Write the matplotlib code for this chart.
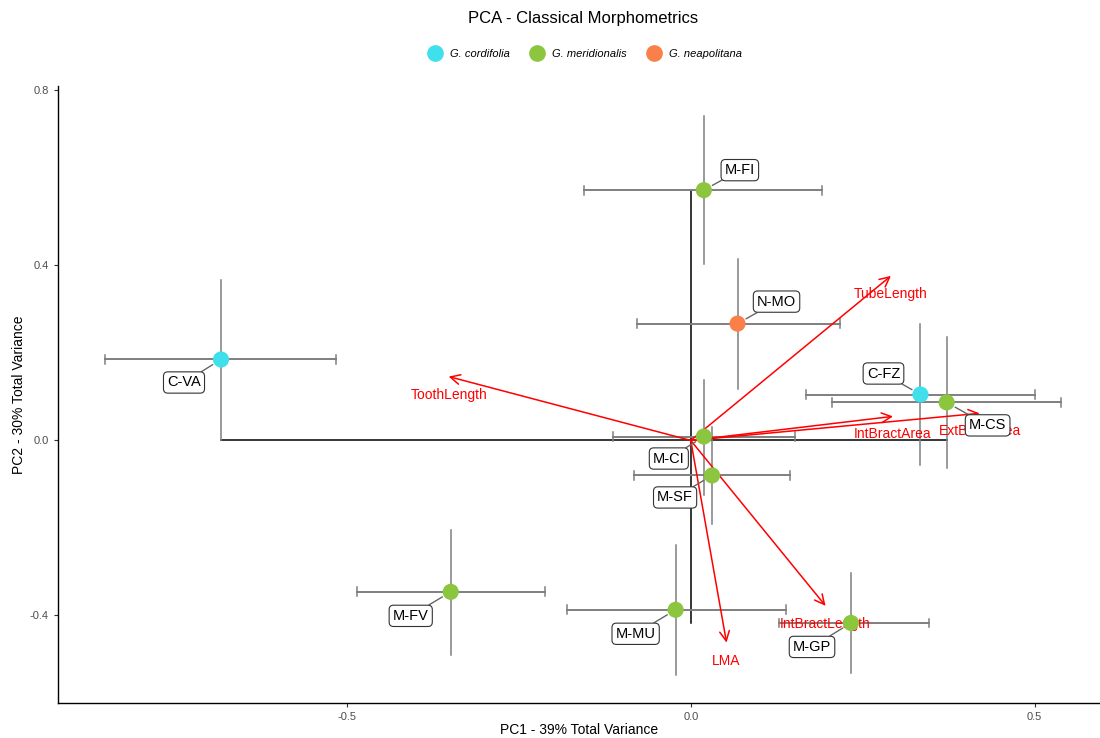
import matplotlib.pyplot as plt
from matplotlib.lines import Line2D

plt.rcParams['font.family'] = ['Liberation Sans', 'DejaVu Sans']

sites = ['C-VA', 'C-FZ', 'M-FI', 'M-CS', 'M-CI', 'M-SF', 'M-FV', 'M-MU', 'M-GP', 'N-MO']
species = ['G. cordifolia', 'G. cordifolia', 'G. meridionalis', 'G. meridionalis',
           'G. meridionalis', 'G. meridionalis', 'G. meridionalis', 'G. meridionalis',
           'G. meridionalis', 'G. neapolitana']
pc1 = [-0.683, 0.334, 0.019, 0.372, 0.019, 0.031, -0.349, -0.022, 0.233, 0.068]
pc2 = [0.185, 0.105, 0.572, 0.087, 0.009, -0.080, -0.346, -0.387, -0.417, 0.267]
pc1_lo = [-0.852, 0.167, -0.155, 0.206, -0.113, -0.083, -0.485, -0.180, 0.129, -0.078]
pc1_hi = [-0.516, 0.500, 0.191, 0.539, 0.151, 0.145, -0.212, 0.138, 0.347, 0.217]
pc2_lo = [0.000, -0.055, 0.403, -0.062, -0.125, -0.190, -0.490, -0.536, -0.531, 0.118]
pc2_hi = [0.367, 0.267, 0.741, 0.237, 0.137, 0.030, -0.205, -0.239, -0.303, 0.415]

variables = ['TubeLength', 'ToothLength', 'IntBractArea', 'ExtBractArea', 'LMA', 'IntBractLength']
load1 = [0.291, -0.352, 0.294, 0.420, 0.052, 0.196]
load2 = [0.376, 0.146, 0.055, 0.062, -0.462, -0.378]

species_order = ['G. cordifolia', 'G. meridionalis', 'G. neapolitana']
colors = {'G. cordifolia': '#3FE0EC', 'G. meridionalis': '#8CC63F', 'G. neapolitana': '#F98049'}

# label offsets in pixels (dx, dy), like ggrepel placed them
label_offsets = {'C-VA': (-37, -23), 'C-FZ': (-37, 21), 'M-FI': (36, 20), 'M-CS': (41, -23),
                 'M-CI': (-35, -22), 'M-SF': (-37, -22), 'M-FV': (-40, -24), 'M-MU': (-40, -24),
                 'M-GP': (-39, -24), 'N-MO': (39, 22)}

fig = plt.figure(figsize=(11, 7.38), dpi=100)
ax = fig.add_axes([58 / 1100, 35 / 738, 1042 / 1100, 617 / 738])

# cross through the origin spanning the scores
ax.plot([min(pc1), max(pc1)], [0, 0], color='black', lw=1.1, zorder=1)
ax.plot([0, 0], [min(pc2), max(pc2)], color='black', lw=1.1, zorder=1)

# error bars
for i in range(len(sites)):
    ax.plot([pc1_lo[i], pc1_hi[i]], [pc2[i], pc2[i]], color='#7f7f7f', lw=1.4, zorder=2)
    for xe in (pc1_lo[i], pc1_hi[i]):
        ax.plot([xe, xe], [pc2[i] - 0.01, pc2[i] + 0.01], color='#7f7f7f', lw=1.1, zorder=2)
    ax.plot([pc1[i], pc1[i]], [pc2_lo[i], pc2_hi[i]], color='#7f7f7f', lw=1.1, zorder=2)

# loadings arrows
for v, a, b in zip(variables, load1, load2):
    ax.annotate('', xy=(a, b), xytext=(0, 0),
                arrowprops=dict(arrowstyle='->,head_length=0.7,head_width=0.35', color='red',
                                lw=1.1, shrinkA=0, shrinkB=0), zorder=3)
    ax.annotate(v, xy=(a, b), xytext=(0, -18), textcoords='offset pixels',
                ha='center', va='center', color='red', fontsize=10, zorder=3)

# points
for sp in species_order:
    xs = [pc1[i] for i in range(len(sites)) if species[i] == sp]
    ys = [pc2[i] for i in range(len(sites)) if species[i] == sp]
    ax.scatter(xs, ys, s=135, color=colors[sp], edgecolors='none', zorder=4)

# point labels
for i, s in enumerate(sites):
    dx, dy = label_offsets[s]
    ax.annotate(s, xy=(pc1[i], pc2[i]), xytext=(dx, dy), textcoords='offset pixels',
                ha='center', va='center', fontsize=10.5, color='black', zorder=5,
                bbox=dict(boxstyle='round,pad=0.25,rounding_size=0.3', fc='white', ec='#333333', lw=0.8),
                arrowprops=dict(arrowstyle='-', color='#666666', lw=1.0, shrinkA=0, shrinkB=7))

ax.set_xlim(-0.92, 0.595)
ax.set_ylim(-0.6, 0.81)
ax.set_xticks([-0.5, 0.0, 0.5])
ax.set_xticklabels(['-0.5', '0.0', '0.5'])
ax.set_yticks([-0.4, 0.0, 0.4, 0.8])
ax.set_yticklabels(['-0.4', '0.0', '0.4', '0.8'])
ax.tick_params(length=3, width=0.8, colors='#333333', labelcolor='#4d4d4d', labelsize=8)
for side in ('top', 'right'):
    ax.spines[side].set_visible(False)
for side in ('left', 'bottom'):
    ax.spines[side].set_linewidth(1.0)
    ax.spines[side].set_color('black')

ax.set_xlabel('PC1 - 39% Total Variance', fontsize=10, labelpad=1)
ax.set_ylabel('PC2 - 30% Total Variance', fontsize=10, labelpad=3)

fig.text(583 / 1100, 1 - 19 / 738, 'PCA - Classical Morphometrics', ha='center', va='center', fontsize=12)

handles = [Line2D([], [], marker='o', linestyle='None', markersize=11, color=colors[sp]) for sp in species_order]
fig.legend(handles, species_order, loc='center', bbox_to_anchor=(583 / 1100, 1 - 54 / 738),
           ncol=3, frameon=False, prop={'style': 'italic', 'size': 8}, handletextpad=0.3,
           columnspacing=1.5)

fig.savefig('out.png', dpi=100)
